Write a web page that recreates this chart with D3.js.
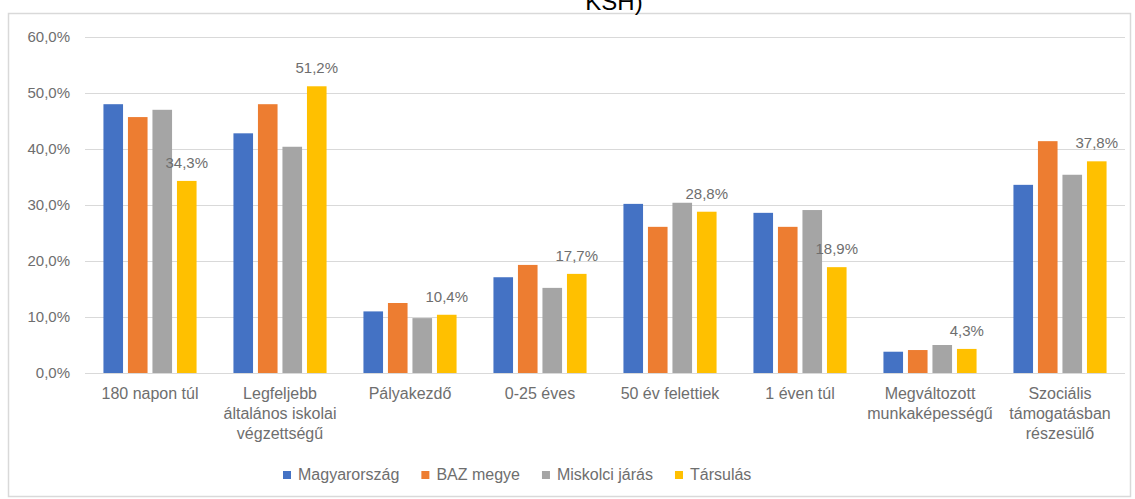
<!DOCTYPE html>
<html><head><meta charset="utf-8">
<script src="https://cdn.jsdelivr.net/npm/d3@7"></script>
<style>body{margin:0;background:#fff;}svg{display:block;font-family:"Liberation Sans",Arial,sans-serif;}</style>
</head><body><svg id="c" width="1135" height="499"></svg>
<script>
const categories = [
  ["180 napon túl"],
  ["Legfeljebb", "általános iskolai", "végzettségű"],
  ["Pályakezdő"],
  ["0-25 éves"],
  ["50 év felettiek"],
  ["1 éven túl"],
  ["Megváltozott", "munkaképességű"],
  ["Szociális", "támogatásban", "részesülő"]
];
const seriesNames = ["Magyarország", "BAZ megye", "Miskolci járás", "Társulás"];
const magyarorszag = [48.0, 42.8, 11.0, 17.1, 30.2, 28.6, 3.8, 33.6];
const baz = [45.7, 48.0, 12.5, 19.3, 26.1, 26.1, 4.1, 41.4];
const miskolci = [47.0, 40.4, 9.8, 15.2, 30.4, 29.1, 5.0, 35.4];
const tarsulas = [34.3, 51.2, 10.4, 17.7, 28.8, 18.9, 4.3, 37.8];
const yTicks = [0, 10, 20, 30, 40, 50, 60];
const colors = ["#4472C4", "#ED7D31", "#A5A5A5", "#FFC000"];

const values = [magyarorszag, baz, miskolci, tarsulas];
const svg = d3.select("#c");
const fmt = v => v.toFixed(1).replace(".", ",") + "%";

// chart border
svg.append("rect").attr("x", 8.5).attr("y", 13.5).attr("width", 1122).attr("height", 483)
  .attr("fill", "none").attr("stroke", "#d9d9d9").attr("stroke-width", 1.5);

// title (cut off at the top, as in the reference)
svg.append("text").attr("x", 614).attr("y", 10).attr("text-anchor", "middle")
  .attr("font-size", 24).attr("fill", "#000").text("KSH)");

const x0 = d3.scaleBand().domain(d3.range(categories.length)).range([85, 1125])
  .paddingInner(0.246).paddingOuter(0.123);
const x1 = d3.scaleBand().domain(d3.range(seriesNames.length)).range([0, x0.bandwidth()])
  .paddingInner(0.2).paddingOuter(0.1);
const y = d3.scaleLinear().domain([0, 60]).range([373, 37]);

// gridlines
svg.append("g").selectAll("line").data(yTicks).join("line")
  .attr("x1", 85).attr("x2", 1125)
  .attr("y1", d => Math.round(y(d)) + 0.5).attr("y2", d => Math.round(y(d)) + 0.5)
  .attr("stroke", "#d9d9d9").attr("stroke-width", 1);

// y axis labels
const yAxis = d3.axisLeft(y).tickValues(yTicks).tickFormat(fmt).tickSize(0).tickPadding(0);
const ya = svg.append("g").attr("transform", "translate(70,0)").call(yAxis);
ya.select(".domain").remove();
ya.selectAll("text").attr("font-size", 15).attr("fill", "#6e6e6e")
  .attr("font-family", "Liberation Sans, Arial, sans-serif");

// bars
const groups = svg.append("g").selectAll("g").data(categories).join("g")
  .attr("transform", (d, i) => `translate(${x0(i)},0)`);
groups.selectAll("rect").data((d, i) => values.map((s, k) => ({k, v: s[i]}))).join("rect")
  .attr("x", d => x1(d.k)).attr("width", x1.bandwidth())
  .attr("y", d => y(d.v)).attr("height", d => y(0) - y(d.v))
  .attr("fill", d => colors[d.k]);

// data labels for Társulás
svg.append("g").selectAll("text").data(tarsulas).join("text")
  .attr("x", (d, i) => x0(i) + x1(3) + x1.bandwidth() / 2)
  .attr("y", d => y(d) - 13)
  .attr("text-anchor", "middle").attr("font-size", 15).attr("fill", "#6e6e6e")
  .text(fmt);

// x labels
const xl = svg.append("g").selectAll("text").data(categories).join("text")
  .attr("text-anchor", "middle").attr("font-size", 16).attr("fill", "#6e6e6e")
  .attr("x", (d, i) => x0(i) + x0.bandwidth() / 2).attr("y", 399);
xl.selectAll("tspan").data(d => d).join("tspan")
  .attr("x", function() { return this.parentNode.getAttribute("x"); })
  .attr("dy", (d, j) => j === 0 ? 0 : 20).text(d => d);

// legend
const leg = svg.append("g");
let lx = 283;
seriesNames.forEach((name, k) => {
  leg.append("rect").attr("x", lx).attr("y", 471).attr("width", 8).attr("height", 8).attr("fill", colors[k]);
  const t = leg.append("text").attr("x", lx + 15).attr("y", 480).attr("font-size", 16)
    .attr("fill", "#6e6e6e").text(name);
  lx += 15 + t.node().getComputedTextLength() + 22;
});
</script></body></html>
